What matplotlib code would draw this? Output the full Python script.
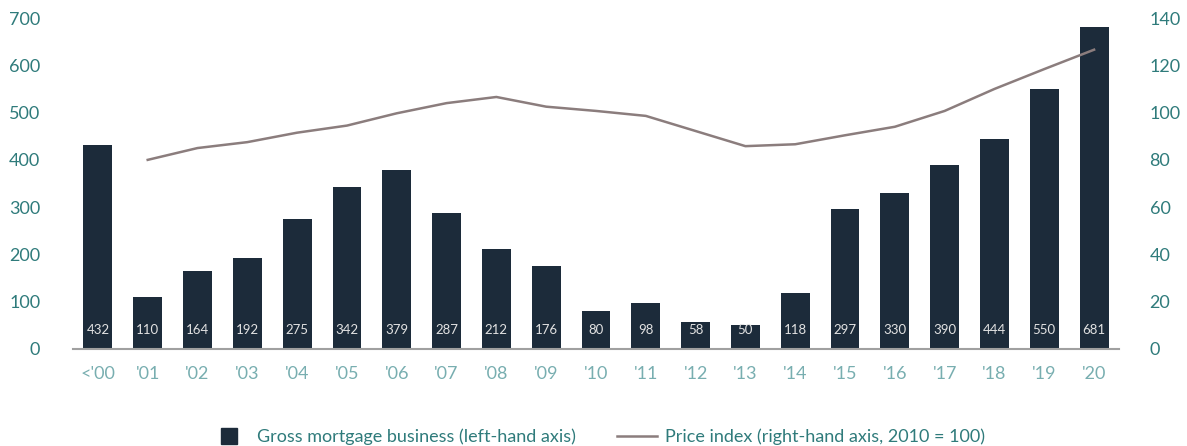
import matplotlib.pyplot as plt
from matplotlib.lines import Line2D
import numpy as np

plt.rcParams['font.family'] = ['Lato', 'DejaVu Sans']

years = ["<'00", "'01", "'02", "'03", "'04", "'05", "'06", "'07", "'08", "'09", "'10",
         "'11", "'12", "'13", "'14", "'15", "'16", "'17", "'18", "'19", "'20"]
mortgage = [432, 110, 164, 192, 275, 342, 379, 287, 212, 176, 80,
            98, 58, 50, 118, 297, 330, 390, 444, 550, 681]
# price index starts in 2001
price_index = [80, 85, 87.5, 91.5, 94.5, 99.7, 104, 106.6, 102.5, 100.7,
               98.6, 92.2, 85.8, 86.6, 90.4, 94, 100.7, 110, 118.4, 126.6]

bar_color = '#1c2b3a'
line_color = '#8b7d7d'
teal = '#2f7b7b'
light_teal = '#78aeb0'

fig = plt.figure(figsize=(11.87, 4.46), dpi=100)
ax = fig.add_axes([0.0615, 0.2175, 0.8812, 0.7421])
x = np.arange(len(years))

ax.bar(x, mortgage, width=0.58, color=bar_color, zorder=2)
for xi, v in zip(x, mortgage):
    ax.text(xi, 40, str(v), ha='center', va='center', color='#e2e2e2',
            fontsize=9.5, zorder=3)

ax.set_xlim(-0.5, len(years) - 0.5)
ax.set_ylim(0, 700)
ax.set_yticks(range(0, 701, 100))
ax.set_xticks(x)
ax.set_xticklabels(years)
ax.tick_params(axis='x', length=0, pad=12, labelsize=13, labelcolor=light_teal)
ax.tick_params(axis='y', length=0, pad=23.5, labelsize=13, labelcolor=teal)
for s in ['top', 'left', 'right']:
    ax.spines[s].set_visible(False)
ax.spines['bottom'].set_color('#a0a0a0')
ax.spines['bottom'].set_linewidth(1.5)

ax2 = ax.twinx()
ax2.plot(x[1:], price_index, color=line_color, linewidth=1.8, zorder=4)
ax2.set_ylim(0, 140)
ax2.set_yticks(range(0, 141, 20))
ax2.tick_params(axis='y', length=0, pad=22, labelsize=13, labelcolor=teal)
for s in ['top', 'left', 'right', 'bottom']:
    ax2.spines[s].set_visible(False)

handles = [Line2D([0], [0], linestyle='none', marker='s', markersize=11.5,
                  markerfacecolor=bar_color, markeredgecolor=bar_color),
           Line2D([0], [0], color=line_color, linewidth=1.8)]
labels = ['Gross mortgage business (left-hand axis)',
          'Price index (right-hand axis, 2010 = 100)']
fig.legend(handles, labels, loc='lower center', bbox_to_anchor=(0.503, -0.035),
           ncol=2, frameon=False, fontsize=13, labelcolor=teal,
           handlelength=2.2, handletextpad=0.45, columnspacing=2.3)

fig.savefig('out.png', dpi=100)
